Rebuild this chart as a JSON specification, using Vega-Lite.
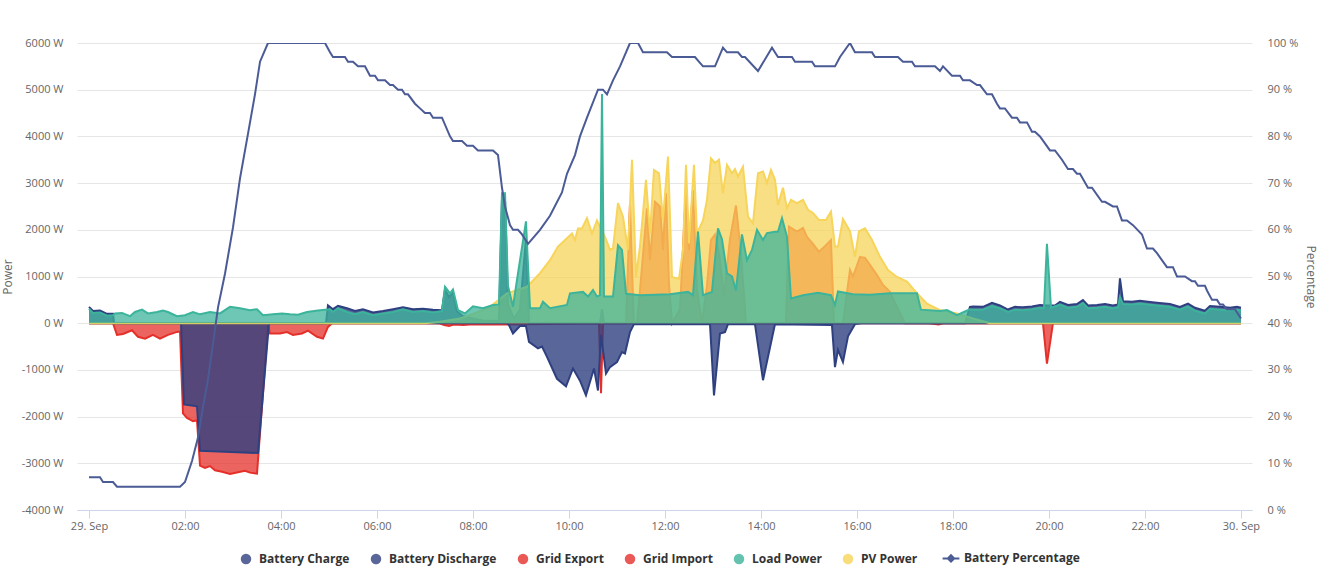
{
  "$schema": "https://vega.github.io/schema/vega-lite/v6.json",
  "width": 1175,
  "height": 467,
  "autosize": "none",
  "padding": {"left": 77, "top": 43, "right": 75, "bottom": 75},
  "config": {
    "view": {"stroke": null},
    "font": "Open Sans",
    "axis": {
      "labelFont": "Open Sans",
      "labelFontSize": 11,
      "labelColor": "#666666",
      "titleFont": "Open Sans",
      "titleFontSize": 12,
      "titleFontWeight": "normal",
      "titleColor": "#666666"
    },
    "legend": {
      "labelFont": "Open Sans",
      "labelFontSize": 12,
      "labelFontWeight": "bold",
      "labelColor": "#333333"
    }
  },
  "datasets": {
    "gridExport": [
      {"h": 0, "w": 0}, {"h": 11.19, "w": 0}, {"h": 11.271, "w": 2550}, {"h": 11.35, "w": 0},
      {"h": 11.417, "w": 0}, {"h": 11.479, "w": 700}, {"h": 11.625, "w": 2460}, {"h": 11.688, "w": 1350},
      {"h": 11.792, "w": 2600}, {"h": 11.896, "w": 2500}, {"h": 11.958, "w": 1570}, {"h": 12.021, "w": 2780},
      {"h": 12.083, "w": 850}, {"h": 12.146, "w": 0}, {"h": 12.313, "w": 300}, {"h": 12.438, "w": 2890},
      {"h": 12.5, "w": 1570}, {"h": 12.583, "w": 2850}, {"h": 12.667, "w": 700}, {"h": 12.771, "w": 0},
      {"h": 12.875, "w": 800}, {"h": 12.958, "w": 1780}, {"h": 13.042, "w": 1900}, {"h": 13.125, "w": 1500},
      {"h": 13.229, "w": 600}, {"h": 13.354, "w": 1800}, {"h": 13.479, "w": 2520}, {"h": 13.583, "w": 1500},
      {"h": 13.688, "w": 0}, {"h": 14.521, "w": 0}, {"h": 14.583, "w": 2070}, {"h": 14.75, "w": 1960},
      {"h": 14.875, "w": 2040}, {"h": 14.958, "w": 1850}, {"h": 15.083, "w": 1700}, {"h": 15.208, "w": 1530},
      {"h": 15.333, "w": 1650}, {"h": 15.458, "w": 1780}, {"h": 15.521, "w": 0}, {"h": 15.708, "w": 0},
      {"h": 15.854, "w": 1140}, {"h": 15.917, "w": 1000}, {"h": 16.063, "w": 1420}, {"h": 16.167, "w": 1400},
      {"h": 16.271, "w": 1250}, {"h": 16.417, "w": 1030}, {"h": 16.542, "w": 820}, {"h": 16.688, "w": 670},
      {"h": 16.854, "w": 300}, {"h": 17.0, "w": 0}, {"h": 24, "w": 0}
    ],
    "gridImport": [
      {"h": 0, "w": 0}, {"h": 0.5, "w": 0}, {"h": 0.583, "w": -250}, {"h": 0.708, "w": -230},
      {"h": 0.896, "w": -150}, {"h": 1.021, "w": -290}, {"h": 1.167, "w": -330}, {"h": 1.333, "w": -250},
      {"h": 1.479, "w": -330}, {"h": 1.646, "w": -250}, {"h": 1.833, "w": -186}, {"h": 1.896, "w": -180},
      {"h": 1.958, "w": -1930}, {"h": 2.042, "w": -2030}, {"h": 2.167, "w": -2100}, {"h": 2.25, "w": -2080},
      {"h": 2.313, "w": -3050}, {"h": 2.417, "w": -3100}, {"h": 2.521, "w": -3060}, {"h": 2.625, "w": -3150},
      {"h": 2.771, "w": -3180}, {"h": 2.938, "w": -3230}, {"h": 3.104, "w": -3190}, {"h": 3.25, "w": -3160},
      {"h": 3.354, "w": -3200}, {"h": 3.5, "w": -3220}, {"h": 3.729, "w": -50}, {"h": 3.771, "w": -220},
      {"h": 3.979, "w": -220}, {"h": 4.125, "w": -190}, {"h": 4.25, "w": -250}, {"h": 4.438, "w": -220},
      {"h": 4.563, "w": -160}, {"h": 4.75, "w": -290}, {"h": 4.875, "w": -330}, {"h": 4.979, "w": -80},
      {"h": 5.063, "w": 0}, {"h": 7.3, "w": 0}, {"h": 7.4, "w": -40}, {"h": 7.5, "w": -60},
      {"h": 7.6, "w": -30}, {"h": 7.8, "w": -40}, {"h": 8.0, "w": -20}, {"h": 8.6, "w": -30},
      {"h": 10.625, "w": 0}, {"h": 10.667, "w": -1500}, {"h": 10.708, "w": 0}, {"h": 17.5, "w": 0},
      {"h": 17.7, "w": -30}, {"h": 17.8, "w": 0}, {"h": 19.875, "w": 0}, {"h": 19.958, "w": -865},
      {"h": 20.083, "w": 0}, {"h": 24, "w": 0}
    ],
    "batteryCharge": [
      {"h": 0, "w": 0}, {"h": 1.917, "w": 0}, {"h": 1.979, "w": -1740}, {"h": 2.25, "w": -1780},
      {"h": 2.313, "w": -2730}, {"h": 3.521, "w": -2780}, {"h": 3.75, "w": 0}, {"h": 8.708, "w": 0},
      {"h": 8.75, "w": -40}, {"h": 8.833, "w": -220}, {"h": 8.979, "w": -60}, {"h": 9.104, "w": -60},
      {"h": 9.167, "w": -400}, {"h": 9.354, "w": -540}, {"h": 9.438, "w": -500}, {"h": 9.542, "w": -720},
      {"h": 9.75, "w": -1190}, {"h": 9.938, "w": -1350}, {"h": 10.083, "w": -970}, {"h": 10.229, "w": -1230},
      {"h": 10.354, "w": -1545}, {"h": 10.521, "w": -970}, {"h": 10.604, "w": -1440}, {"h": 10.667, "w": -250},
      {"h": 10.771, "w": -1080}, {"h": 10.854, "w": -940}, {"h": 11.0, "w": -830}, {"h": 11.104, "w": -620},
      {"h": 11.167, "w": -650}, {"h": 11.271, "w": -190}, {"h": 11.354, "w": -20}, {"h": 12.938, "w": -20},
      {"h": 13.021, "w": -1545}, {"h": 13.146, "w": -220}, {"h": 13.25, "w": -190}, {"h": 13.313, "w": -20},
      {"h": 13.875, "w": -20}, {"h": 14.042, "w": -1220}, {"h": 14.292, "w": -20}, {"h": 15.479, "w": -40},
      {"h": 15.542, "w": -940}, {"h": 15.604, "w": -570}, {"h": 15.708, "w": -830}, {"h": 15.813, "w": -280},
      {"h": 15.958, "w": -20}, {"h": 16.1, "w": 0}, {"h": 24, "w": 0}
    ],
    "batteryDischarge": [
      {"h": 0, "w": 350}, {"h": 0.083, "w": 260}, {"h": 0.229, "w": 270}, {"h": 0.375, "w": 200},
      {"h": 0.5, "w": 200}, {"h": 0.521, "w": 0}, {"h": 4.938, "w": 0}, {"h": 4.979, "w": 380},
      {"h": 5.083, "w": 300}, {"h": 5.188, "w": 370}, {"h": 5.375, "w": 320}, {"h": 5.542, "w": 260},
      {"h": 5.708, "w": 300}, {"h": 5.917, "w": 230}, {"h": 6.125, "w": 260}, {"h": 6.333, "w": 300},
      {"h": 6.542, "w": 340}, {"h": 6.75, "w": 300}, {"h": 6.958, "w": 310}, {"h": 7.167, "w": 290},
      {"h": 7.354, "w": 280}, {"h": 7.417, "w": 720}, {"h": 7.5, "w": 560}, {"h": 7.583, "w": 650},
      {"h": 7.667, "w": 250}, {"h": 7.792, "w": 150}, {"h": 8.0, "w": 100}, {"h": 8.208, "w": 60},
      {"h": 8.542, "w": 50}, {"h": 8.604, "w": 2650}, {"h": 8.667, "w": 2650}, {"h": 8.729, "w": 400},
      {"h": 8.854, "w": 100}, {"h": 8.979, "w": 300}, {"h": 9.104, "w": 1800}, {"h": 9.167, "w": 0},
      {"h": 10.646, "w": 0}, {"h": 10.688, "w": 300}, {"h": 10.729, "w": 0}, {"h": 18.25, "w": 0},
      {"h": 18.354, "w": 350}, {"h": 18.417, "w": 360}, {"h": 18.625, "w": 350}, {"h": 18.813, "w": 436},
      {"h": 18.979, "w": 380}, {"h": 19.146, "w": 293}, {"h": 19.292, "w": 350}, {"h": 19.458, "w": 340},
      {"h": 19.646, "w": 360}, {"h": 19.813, "w": 390}, {"h": 19.958, "w": 380}, {"h": 20.125, "w": 380},
      {"h": 20.229, "w": 458}, {"h": 20.396, "w": 390}, {"h": 20.583, "w": 410}, {"h": 20.708, "w": 494},
      {"h": 20.813, "w": 380}, {"h": 21.0, "w": 390}, {"h": 21.167, "w": 410}, {"h": 21.333, "w": 380},
      {"h": 21.438, "w": 400}, {"h": 21.479, "w": 960}, {"h": 21.542, "w": 470}, {"h": 21.729, "w": 460},
      {"h": 21.896, "w": 480}, {"h": 22.063, "w": 460}, {"h": 22.25, "w": 440}, {"h": 22.521, "w": 410},
      {"h": 22.729, "w": 350}, {"h": 22.896, "w": 420}, {"h": 23.042, "w": 330}, {"h": 23.25, "w": 266},
      {"h": 23.354, "w": 370}, {"h": 23.563, "w": 350}, {"h": 23.771, "w": 330}, {"h": 23.917, "w": 350},
      {"h": 24, "w": 330}
    ],
    "pv": [
      {"h": 0, "w": 0}, {"h": 7.0, "w": 0}, {"h": 7.313, "w": 30}, {"h": 7.729, "w": 100},
      {"h": 8.0, "w": 200}, {"h": 8.354, "w": 350}, {"h": 8.708, "w": 640}, {"h": 9.125, "w": 780},
      {"h": 9.396, "w": 1070}, {"h": 9.604, "w": 1350}, {"h": 9.771, "w": 1640}, {"h": 9.958, "w": 1820},
      {"h": 10.063, "w": 1920}, {"h": 10.125, "w": 1780}, {"h": 10.188, "w": 2030}, {"h": 10.271, "w": 2030},
      {"h": 10.375, "w": 2250}, {"h": 10.479, "w": 1920}, {"h": 10.583, "w": 2200}, {"h": 10.75, "w": 1850},
      {"h": 10.854, "w": 1570}, {"h": 10.917, "w": 1600}, {"h": 11.021, "w": 2570}, {"h": 11.125, "w": 2280},
      {"h": 11.229, "w": 1570}, {"h": 11.313, "w": 3500}, {"h": 11.396, "w": 990}, {"h": 11.479, "w": 1640},
      {"h": 11.604, "w": 3070}, {"h": 11.688, "w": 1920}, {"h": 11.771, "w": 3280}, {"h": 11.875, "w": 3210},
      {"h": 11.958, "w": 2210}, {"h": 12.063, "w": 3570}, {"h": 12.146, "w": 990}, {"h": 12.208, "w": 970},
      {"h": 12.292, "w": 950}, {"h": 12.375, "w": 1570}, {"h": 12.438, "w": 3390}, {"h": 12.5, "w": 1710},
      {"h": 12.604, "w": 3390}, {"h": 12.667, "w": 1920}, {"h": 12.792, "w": 2200}, {"h": 12.875, "w": 2640},
      {"h": 12.958, "w": 3530}, {"h": 13.042, "w": 3430}, {"h": 13.125, "w": 3500}, {"h": 13.208, "w": 2780},
      {"h": 13.292, "w": 3390}, {"h": 13.396, "w": 3210}, {"h": 13.458, "w": 3300}, {"h": 13.521, "w": 3140},
      {"h": 13.625, "w": 3350}, {"h": 13.729, "w": 2280}, {"h": 13.833, "w": 2140}, {"h": 13.938, "w": 3210},
      {"h": 14.042, "w": 3250}, {"h": 14.125, "w": 3000}, {"h": 14.208, "w": 3280}, {"h": 14.292, "w": 3070},
      {"h": 14.354, "w": 2530}, {"h": 14.458, "w": 2900}, {"h": 14.542, "w": 2460}, {"h": 14.625, "w": 2640},
      {"h": 14.75, "w": 2570}, {"h": 14.875, "w": 2640}, {"h": 14.979, "w": 2430}, {"h": 15.083, "w": 2360},
      {"h": 15.208, "w": 2210}, {"h": 15.354, "w": 2210}, {"h": 15.458, "w": 2390}, {"h": 15.542, "w": 1640},
      {"h": 15.604, "w": 1640}, {"h": 15.708, "w": 2230}, {"h": 15.854, "w": 1970}, {"h": 15.958, "w": 1420},
      {"h": 16.042, "w": 1970}, {"h": 16.167, "w": 2030}, {"h": 16.313, "w": 1780}, {"h": 16.479, "w": 1420},
      {"h": 16.646, "w": 1140}, {"h": 16.833, "w": 990}, {"h": 17.042, "w": 890}, {"h": 17.25, "w": 640},
      {"h": 17.458, "w": 420}, {"h": 17.729, "w": 280}, {"h": 18.083, "w": 210}, {"h": 18.417, "w": 100},
      {"h": 18.771, "w": 0}, {"h": 24, "w": 0}
    ],
    "load": [
      {"h": 0, "w": 310}, {"h": 0.083, "w": 220}, {"h": 0.229, "w": 230}, {"h": 0.375, "w": 160},
      {"h": 0.5, "w": 170}, {"h": 0.542, "w": 210}, {"h": 0.688, "w": 220}, {"h": 0.854, "w": 150},
      {"h": 0.958, "w": 240}, {"h": 1.104, "w": 290}, {"h": 1.229, "w": 210}, {"h": 1.417, "w": 240},
      {"h": 1.542, "w": 270}, {"h": 1.646, "w": 240}, {"h": 1.833, "w": 150}, {"h": 2.0, "w": 170},
      {"h": 2.167, "w": 240}, {"h": 2.313, "w": 190}, {"h": 2.521, "w": 240}, {"h": 2.729, "w": 210},
      {"h": 2.938, "w": 350}, {"h": 3.146, "w": 320}, {"h": 3.354, "w": 280}, {"h": 3.5, "w": 300},
      {"h": 3.625, "w": 170}, {"h": 3.833, "w": 190}, {"h": 4.021, "w": 210}, {"h": 4.188, "w": 190},
      {"h": 4.354, "w": 180}, {"h": 4.542, "w": 240}, {"h": 4.771, "w": 270}, {"h": 4.917, "w": 290},
      {"h": 5.021, "w": 300}, {"h": 5.083, "w": 240}, {"h": 5.188, "w": 320}, {"h": 5.375, "w": 240},
      {"h": 5.542, "w": 190}, {"h": 5.708, "w": 240}, {"h": 5.917, "w": 170}, {"h": 6.125, "w": 210},
      {"h": 6.333, "w": 240}, {"h": 6.542, "w": 300}, {"h": 6.75, "w": 240}, {"h": 6.958, "w": 260},
      {"h": 7.167, "w": 230}, {"h": 7.354, "w": 260}, {"h": 7.417, "w": 780}, {"h": 7.521, "w": 640},
      {"h": 7.583, "w": 720}, {"h": 7.688, "w": 280}, {"h": 7.833, "w": 210}, {"h": 8.0, "w": 360},
      {"h": 8.208, "w": 320}, {"h": 8.417, "w": 390}, {"h": 8.542, "w": 400}, {"h": 8.604, "w": 2780},
      {"h": 8.667, "w": 2780}, {"h": 8.729, "w": 800}, {"h": 8.833, "w": 350}, {"h": 8.938, "w": 1070},
      {"h": 9.104, "w": 2180}, {"h": 9.188, "w": 320}, {"h": 9.396, "w": 320}, {"h": 9.458, "w": 460},
      {"h": 9.604, "w": 320}, {"h": 9.958, "w": 390}, {"h": 10.021, "w": 640}, {"h": 10.292, "w": 670},
      {"h": 10.396, "w": 570}, {"h": 10.5, "w": 710}, {"h": 10.583, "w": 570}, {"h": 10.646, "w": 600},
      {"h": 10.688, "w": 4910}, {"h": 10.729, "w": 570}, {"h": 10.917, "w": 570}, {"h": 11.021, "w": 1670},
      {"h": 11.104, "w": 1570}, {"h": 11.188, "w": 630}, {"h": 11.479, "w": 600}, {"h": 12.104, "w": 620},
      {"h": 12.479, "w": 670}, {"h": 12.583, "w": 600}, {"h": 12.688, "w": 1960}, {"h": 12.792, "w": 600},
      {"h": 12.979, "w": 670}, {"h": 13.104, "w": 2030}, {"h": 13.188, "w": 1800}, {"h": 13.292, "w": 1070},
      {"h": 13.396, "w": 1000}, {"h": 13.479, "w": 700}, {"h": 13.604, "w": 1900}, {"h": 13.708, "w": 1350},
      {"h": 13.813, "w": 1570}, {"h": 13.917, "w": 2000}, {"h": 14.042, "w": 1780}, {"h": 14.125, "w": 1930},
      {"h": 14.292, "w": 1960}, {"h": 14.354, "w": 1960}, {"h": 14.438, "w": 2250}, {"h": 14.542, "w": 1850},
      {"h": 14.625, "w": 530}, {"h": 14.875, "w": 600}, {"h": 15.188, "w": 650}, {"h": 15.458, "w": 600},
      {"h": 15.542, "w": 390}, {"h": 15.604, "w": 680}, {"h": 15.917, "w": 620}, {"h": 16.271, "w": 610},
      {"h": 16.688, "w": 640}, {"h": 16.979, "w": 640}, {"h": 17.25, "w": 640}, {"h": 17.333, "w": 290},
      {"h": 17.729, "w": 260}, {"h": 17.875, "w": 280}, {"h": 18.083, "w": 170}, {"h": 18.25, "w": 250},
      {"h": 18.354, "w": 300}, {"h": 18.417, "w": 290}, {"h": 18.625, "w": 290}, {"h": 18.813, "w": 370},
      {"h": 18.979, "w": 320}, {"h": 19.146, "w": 240}, {"h": 19.292, "w": 290}, {"h": 19.458, "w": 280},
      {"h": 19.646, "w": 300}, {"h": 19.813, "w": 330}, {"h": 19.896, "w": 320}, {"h": 19.958, "w": 1700},
      {"h": 20.042, "w": 330}, {"h": 20.229, "w": 400}, {"h": 20.396, "w": 330}, {"h": 20.583, "w": 350},
      {"h": 20.708, "w": 430}, {"h": 20.813, "w": 320}, {"h": 21.0, "w": 330}, {"h": 21.167, "w": 350},
      {"h": 21.333, "w": 320}, {"h": 21.438, "w": 340}, {"h": 21.479, "w": 560}, {"h": 21.542, "w": 410},
      {"h": 21.729, "w": 400}, {"h": 21.896, "w": 420}, {"h": 22.063, "w": 400}, {"h": 22.25, "w": 380},
      {"h": 22.521, "w": 350}, {"h": 22.729, "w": 290}, {"h": 22.896, "w": 360}, {"h": 23.042, "w": 270},
      {"h": 23.25, "w": 210}, {"h": 23.354, "w": 310}, {"h": 23.563, "w": 290}, {"h": 23.771, "w": 270},
      {"h": 23.917, "w": 290}, {"h": 24, "w": 270}
    ],
    "pct": [
      {"h": 0, "p": 7}, {"h": 0.229, "p": 7}, {"h": 0.292, "p": 6}, {"h": 0.5, "p": 6},
      {"h": 0.583, "p": 5}, {"h": 1.896, "p": 5}, {"h": 2.0, "p": 6}, {"h": 2.146, "p": 10.5},
      {"h": 2.271, "p": 15.5}, {"h": 2.375, "p": 22}, {"h": 2.479, "p": 28}, {"h": 2.583, "p": 35.6},
      {"h": 2.688, "p": 43.4}, {"h": 2.833, "p": 50.6}, {"h": 3.0, "p": 60.5}, {"h": 3.146, "p": 71},
      {"h": 3.313, "p": 80.6}, {"h": 3.458, "p": 89}, {"h": 3.563, "p": 96}, {"h": 3.729, "p": 100},
      {"h": 4.917, "p": 100}, {"h": 5.021, "p": 98}, {"h": 5.083, "p": 97}, {"h": 5.333, "p": 97},
      {"h": 5.396, "p": 96}, {"h": 5.5, "p": 96}, {"h": 5.604, "p": 95}, {"h": 5.75, "p": 95},
      {"h": 5.854, "p": 93}, {"h": 5.958, "p": 93}, {"h": 6.021, "p": 92}, {"h": 6.167, "p": 92},
      {"h": 6.271, "p": 91}, {"h": 6.333, "p": 91}, {"h": 6.438, "p": 90}, {"h": 6.521, "p": 90},
      {"h": 6.583, "p": 89}, {"h": 6.646, "p": 89}, {"h": 6.792, "p": 87}, {"h": 6.896, "p": 86},
      {"h": 7.0, "p": 85}, {"h": 7.104, "p": 85}, {"h": 7.167, "p": 84}, {"h": 7.354, "p": 84},
      {"h": 7.521, "p": 80}, {"h": 7.583, "p": 79}, {"h": 7.771, "p": 79}, {"h": 7.875, "p": 78},
      {"h": 8.0, "p": 78}, {"h": 8.104, "p": 77}, {"h": 8.417, "p": 77}, {"h": 8.521, "p": 76},
      {"h": 8.604, "p": 69}, {"h": 8.667, "p": 65}, {"h": 8.771, "p": 61}, {"h": 8.833, "p": 60},
      {"h": 8.938, "p": 60}, {"h": 9.021, "p": 59}, {"h": 9.146, "p": 57}, {"h": 9.396, "p": 60},
      {"h": 9.604, "p": 63}, {"h": 9.854, "p": 68}, {"h": 9.958, "p": 72}, {"h": 10.125, "p": 76},
      {"h": 10.229, "p": 80}, {"h": 10.375, "p": 84}, {"h": 10.604, "p": 90}, {"h": 10.708, "p": 90},
      {"h": 10.792, "p": 89}, {"h": 10.917, "p": 92}, {"h": 11.063, "p": 95}, {"h": 11.271, "p": 100},
      {"h": 11.438, "p": 100}, {"h": 11.542, "p": 98}, {"h": 12.042, "p": 98}, {"h": 12.146, "p": 97},
      {"h": 12.625, "p": 97}, {"h": 12.792, "p": 95}, {"h": 13.042, "p": 95}, {"h": 13.208, "p": 99},
      {"h": 13.292, "p": 98}, {"h": 13.521, "p": 98}, {"h": 13.604, "p": 97}, {"h": 13.667, "p": 97},
      {"h": 13.938, "p": 94}, {"h": 14.229, "p": 99}, {"h": 14.354, "p": 97}, {"h": 14.646, "p": 97},
      {"h": 14.708, "p": 96}, {"h": 15.063, "p": 96}, {"h": 15.125, "p": 95}, {"h": 15.542, "p": 95},
      {"h": 15.646, "p": 97}, {"h": 15.854, "p": 100}, {"h": 15.958, "p": 98}, {"h": 16.313, "p": 98},
      {"h": 16.375, "p": 97}, {"h": 16.854, "p": 97}, {"h": 16.958, "p": 96}, {"h": 17.146, "p": 96},
      {"h": 17.208, "p": 95}, {"h": 17.625, "p": 95}, {"h": 17.729, "p": 94}, {"h": 17.792, "p": 95},
      {"h": 17.979, "p": 93}, {"h": 18.146, "p": 93}, {"h": 18.208, "p": 92}, {"h": 18.354, "p": 92},
      {"h": 18.5, "p": 91}, {"h": 18.563, "p": 91}, {"h": 18.708, "p": 89}, {"h": 18.813, "p": 89},
      {"h": 18.917, "p": 87}, {"h": 18.979, "p": 86}, {"h": 19.083, "p": 86}, {"h": 19.229, "p": 84},
      {"h": 19.333, "p": 84}, {"h": 19.396, "p": 83}, {"h": 19.542, "p": 83}, {"h": 19.646, "p": 81},
      {"h": 19.708, "p": 81}, {"h": 19.813, "p": 80}, {"h": 20.021, "p": 77}, {"h": 20.125, "p": 77},
      {"h": 20.271, "p": 75}, {"h": 20.396, "p": 73}, {"h": 20.5, "p": 73}, {"h": 20.583, "p": 72},
      {"h": 20.646, "p": 72}, {"h": 20.813, "p": 69}, {"h": 20.896, "p": 69}, {"h": 21.104, "p": 66},
      {"h": 21.167, "p": 66}, {"h": 21.333, "p": 65}, {"h": 21.417, "p": 65}, {"h": 21.521, "p": 62},
      {"h": 21.625, "p": 62}, {"h": 21.75, "p": 61}, {"h": 21.938, "p": 59}, {"h": 22.042, "p": 56},
      {"h": 22.167, "p": 56}, {"h": 22.25, "p": 55}, {"h": 22.458, "p": 52}, {"h": 22.583, "p": 52},
      {"h": 22.667, "p": 50}, {"h": 22.833, "p": 50}, {"h": 22.979, "p": 49}, {"h": 23.042, "p": 49},
      {"h": 23.104, "p": 48}, {"h": 23.25, "p": 48}, {"h": 23.292, "p": 47}, {"h": 23.396, "p": 45},
      {"h": 23.5, "p": 45}, {"h": 23.563, "p": 44}, {"h": 23.625, "p": 44}, {"h": 23.708, "p": 43},
      {"h": 23.875, "p": 43}, {"h": 24, "p": 41}
    ]
  },
  "encoding": {
    "x": {
      "field": "h",
      "type": "quantitative",
      "scale": {"domain": [-0.25, 24.23], "nice": false, "zero": false},
      "axis": {
        "title": null,
        "values": [0, 2, 4, 6, 8, 10, 12, 14, 16, 18, 20, 22, 24],
        "labelExpr": "datum.value == 0 ? '29. Sep' : datum.value == 24 ? '30. Sep' : (datum.value < 10 ? '0' : '') + datum.value + ':00'",
        "grid": false,
        "domainColor": "#ccd6eb",
        "tickColor": "#ccd6eb",
        "tickSize": 8,
        "labelPadding": 2,
        "labelFlush": false,
        "labelOverlap": false
      }
    }
  },
  "layer": [
    {
      "encoding": {
        "y": {
          "field": "w",
          "type": "quantitative",
          "scale": {"domain": [-4000, 6000], "nice": false},
          "axis": {
            "orient": "left",
            "title": "Power",
            "values": [-4000, -3000, -2000, -1000, 0, 1000, 2000, 3000, 4000, 5000, 6000],
            "labelExpr": "datum.value + ' W'",
            "grid": true,
            "gridColor": "#e6e6e6",
            "domain": false,
            "ticks": false,
            "labelPadding": 14,
            "titlePadding": 7
          }
        }
      },
      "layer": [
        {
          "data": {"name": "gridExport"},
          "mark": {"type": "area", "fillOpacity": 0.75, "line": {"strokeWidth": 2}, "clip": true},
          "encoding": {
            "color": {
              "datum": "Grid Export",
              "scale": {
                "domain": ["Battery Charge", "Battery Discharge", "Grid Export", "Grid Import", "Load Power", "PV Power", "Battery Percentage"],
                "range": ["#2f4080", "#2f4080", "#e5302a", "#e5302a", "#3cb49b", "#f7d45a", "#4b5b95"]
              },
              "legend": {
                "title": null,
                "orient": "none",
                "direction": "horizontal",
                "legendX": 163,
                "legendY": 509,
                "padding": 0,
                "columnPadding": 20,
                "labelOffset": 7,
                "symbolSize": 110,
                "encode": {
                  "symbols": {
                    "update": {
                      "shape": {"signal": "datum.value === 'Battery Percentage' ? 'M-1.6,0L1.6,0M0,-0.6L0.6,0L0,0.6L-0.6,0Z' : 'circle'"},
                      "fill": {"scale": "color", "field": "value"},
                      "stroke": {"scale": "color", "field": "value"},
                      "strokeWidth": {"signal": "datum.value === 'Battery Percentage' ? 2 : 0"},
                      "fillOpacity": {"value": 0.8},
                      "opacity": {"value": 1}
                    }
                  }
                }
              }
            }
          }
        },
        {
          "data": {"name": "gridImport"},
          "mark": {"type": "area", "fillOpacity": 0.75, "line": {"strokeWidth": 2}, "clip": true},
          "encoding": {"color": {"datum": "Grid Import"}}
        },
        {
          "data": {"name": "batteryCharge"},
          "mark": {"type": "area", "fillOpacity": 0.8, "line": {"strokeWidth": 2}, "clip": true},
          "encoding": {"color": {"datum": "Battery Charge"}}
        },
        {
          "data": {"name": "batteryDischarge"},
          "mark": {"type": "area", "fillOpacity": 0.8, "line": {"strokeWidth": 2}, "clip": true},
          "encoding": {"color": {"datum": "Battery Discharge"}}
        },
        {
          "data": {"name": "pv"},
          "mark": {"type": "area", "fillOpacity": 0.75, "line": {"strokeWidth": 2}, "clip": true},
          "encoding": {"color": {"datum": "PV Power"}}
        },
        {
          "data": {"name": "load"},
          "mark": {"type": "area", "fillOpacity": 0.75, "line": {"strokeWidth": 2}, "clip": true},
          "encoding": {"color": {"datum": "Load Power"}}
        }
      ]
    },
    {
      "data": {"name": "pct"},
      "mark": {"type": "line", "strokeWidth": 2, "clip": true},
      "encoding": {
        "y": {
          "field": "p",
          "type": "quantitative",
          "scale": {"domain": [0, 100], "nice": false},
          "axis": {
            "orient": "right",
            "title": "Percentage",
            "values": [0, 10, 20, 30, 40, 50, 60, 70, 80, 90, 100],
            "labelExpr": "datum.value + ' %'",
            "grid": false,
            "domain": false,
            "ticks": false,
            "labelPadding": 15,
            "titlePadding": 6
          }
        },
        "color": {"datum": "Battery Percentage"}
      }
    }
  ],
  "resolve": {"scale": {"y": "independent"}}
}
